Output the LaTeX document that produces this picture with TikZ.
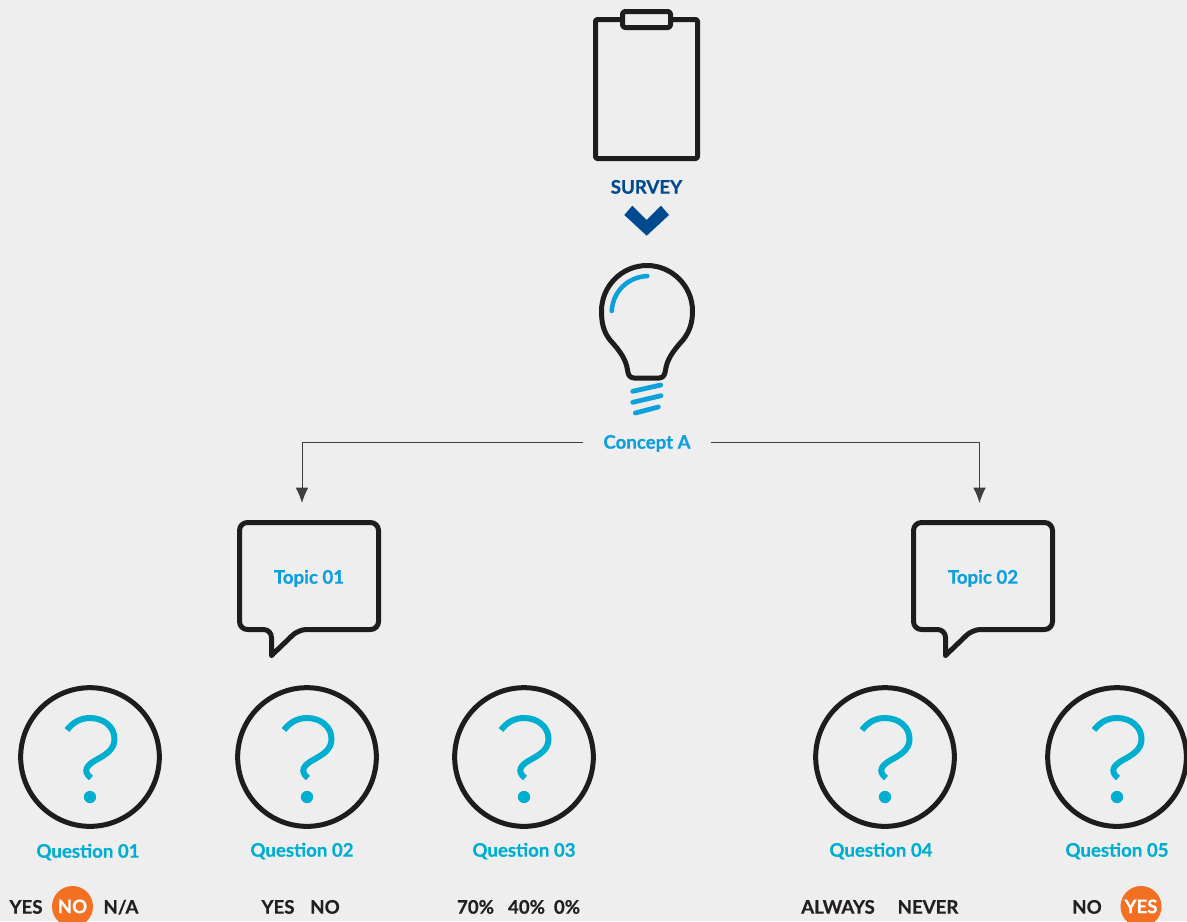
\documentclass[tikz,border=0pt]{standalone}
\usepackage{fontspec}
\setmainfont{Lato}[BoldFeatures={FakeBold=0.6}]
\usepackage{xcolor}
\usepackage{tikz}
\usetikzlibrary{arrows}
\usetikzlibrary{arrows.meta}
\definecolor{bgcol}{HTML}{EEEEEE}
\definecolor{inkcol}{HTML}{1D1D1B}
\definecolor{txtcol}{HTML}{231F20}
\definecolor{navycol}{HTML}{004A8F}
\definecolor{bluecol}{HTML}{0EA0DC}
\definecolor{qcol}{HTML}{00AECF}
\definecolor{orangecol}{HTML}{F36F21}
\tikzset{>={Latex[length=11.5pt, width=9.5pt]}}
\tikzstyle{lab} = [font=\bfseries\fontsize{14}{16}\selectfont, inner sep=0pt, text height=10pt, text depth=0pt]
\tikzstyle{icon} = [draw=inkcol, line width=3.75pt, line join=round]
\tikzstyle{qcirc} = [circle, draw=inkcol, line width=3.75pt, minimum size=104pt, inner sep=0pt]
\tikzstyle{qtext} = [lab, text=qcol]
\tikzstyle{ans} = [lab, text=txtcol]
\tikzstyle{pick} = [circle, fill=orangecol, minimum size=30.75pt, inner sep=0pt, lab, text=white]
\tikzstyle{conn} = [draw=inkcol!85, line width=0.75pt]
\tikzset{
  pics/qmark/.style={code={
    \draw [qcol, line width=4.5pt] (-23,-27) .. controls (-17,-35) and (-9,-39) .. (0,-39)
      .. controls (14,-39) and (24.5,-30) .. (24.5,-18)
      .. controls (24.5,-7) and (15,-2) .. (6,3)
      .. controls (-3,8) and (-8,14) .. (1,21);
    \fill [qcol] (0,40) circle (4.6pt);
  }},
  pics/bubble/.style={code={
    \draw [icon, line cap=round] (32,133) [rounded corners=6pt] -- (32,107) -- (0,107) -- (0,0) -- (139,0) -- (139,107) -- (59,107) -- (32,133);
  }}
}
\begin{document}
\begin{tikzpicture}[x=0.75pt, y=-0.75pt]
\fill [bgcol] (0,0) rectangle (1187,921);
\useasboundingbox (0,0) rectangle (1187,921);
% clipboard
\draw [icon, rounded corners=1.5pt] (595.5,19.5) rectangle (697.5,158.5);
\draw [icon, fill=bgcol, rounded corners=2pt] (622.5,11.5) rectangle (670.5,27.5);
\node [lab, text=navycol] (survey) at (646.5,187) {SURVEY};
\fill [navycol] (624.3,215) -- (632.3,205.7) -- (646.7,220) -- (661,205.7) -- (669,215) -- (646.7,235.7) -- cycle;
% bulb
\draw [icon] (610,340) .. controls (603,331) and (601.5,322) .. (601.5,311)
  .. controls (601.5,286) and (622,265.5) .. (647,265.5)
  .. controls (672,265.5) and (692.5,286) .. (692.5,311)
  .. controls (692.5,322) and (690,331) .. (683,340)
  .. controls (672,352) and (667,360) .. (665.5,370)
  .. controls (665,375) and (663,378) .. (659,378) -- (634,378)
  .. controls (630,378) and (628,375) .. (627.5,370)
  .. controls (626,360) and (621,352) .. (610,340) -- cycle;
\draw [bluecol, line width=3.4pt, line cap=round] (611.7,311) .. controls (613,291) and (628,277) .. (647.3,276);
\draw [bluecol, line width=3.6pt, line cap=round] (632.7,391.3) -- (660.7,385);
\draw [bluecol, line width=3.6pt, line cap=round] (632.7,402.3) -- (661,395.7);
\draw [bluecol, line width=3.6pt, line cap=round] (635.3,413) -- (658.3,407);
% concept and topics
\node [lab, text=bluecol, inner xsep=15pt] (concept) at (647,442) {Concept A};
\coordinate (top1) at (302,503);
\coordinate (top2) at (979.5,503);
\draw [conn, ->] (concept.west) -| (top1);
\draw [conn, ->] (concept.east) -| (top2);
\pic at (239.5,522.5) {bubble};
\pic at (913.5,522.5) {bubble};
\node [lab, text=bluecol] (topic1) at (309,577) {Topic 01};
\node [lab, text=bluecol] (topic2) at (983,577) {Topic 02};
% questions
\node [qcirc] (Q1) at (90,757) {};
\node [qcirc] (Q2) at (307,757) {};
\node [qcirc] (Q3) at (524,757) {};
\node [qcirc] (Q4) at (885,757) {};
\node [qcirc] (Q5) at (1117,757) {};
\pic at (Q1) {qmark};
\pic at (Q2) {qmark};
\pic at (Q3) {qmark};
\pic at (Q4) {qmark};
\pic at (Q5) {qmark};
\node [qtext] (T1) at (88,851) {Question 01};
\node [qtext] (T2) at (302,850) {Question 02};
\node [qtext] (T3) at (524,850) {Question 03};
\node [qtext] (T4) at (881,850) {Question 04};
\node [qtext] (T5) at (1117,850) {Question 05};
% answers
\node [ans] (a1) at (26,907) {YES};
\node [pick] (a2) at (72.5,906.5) {NO};
\node [ans] (a3) at (121,907) {N/A};
\node [ans] (b1) at (278,907) {YES};
\node [ans] (b2) at (325,907) {NO};
\node [ans] (c1) at (475.5,907) {70\%};
\node [ans] (c2) at (526.5,907) {40\%};
\node [ans] (c3) at (567,907) {0\%};
\node [ans] (d1) at (838,907) {ALWAYS};
\node [ans] (d2) at (928,907) {NEVER};
\node [ans] (e1) at (1087,907) {NO};
\node [pick] (e2) at (1141,906.5) {YES};
\end{tikzpicture}
\end{document}
